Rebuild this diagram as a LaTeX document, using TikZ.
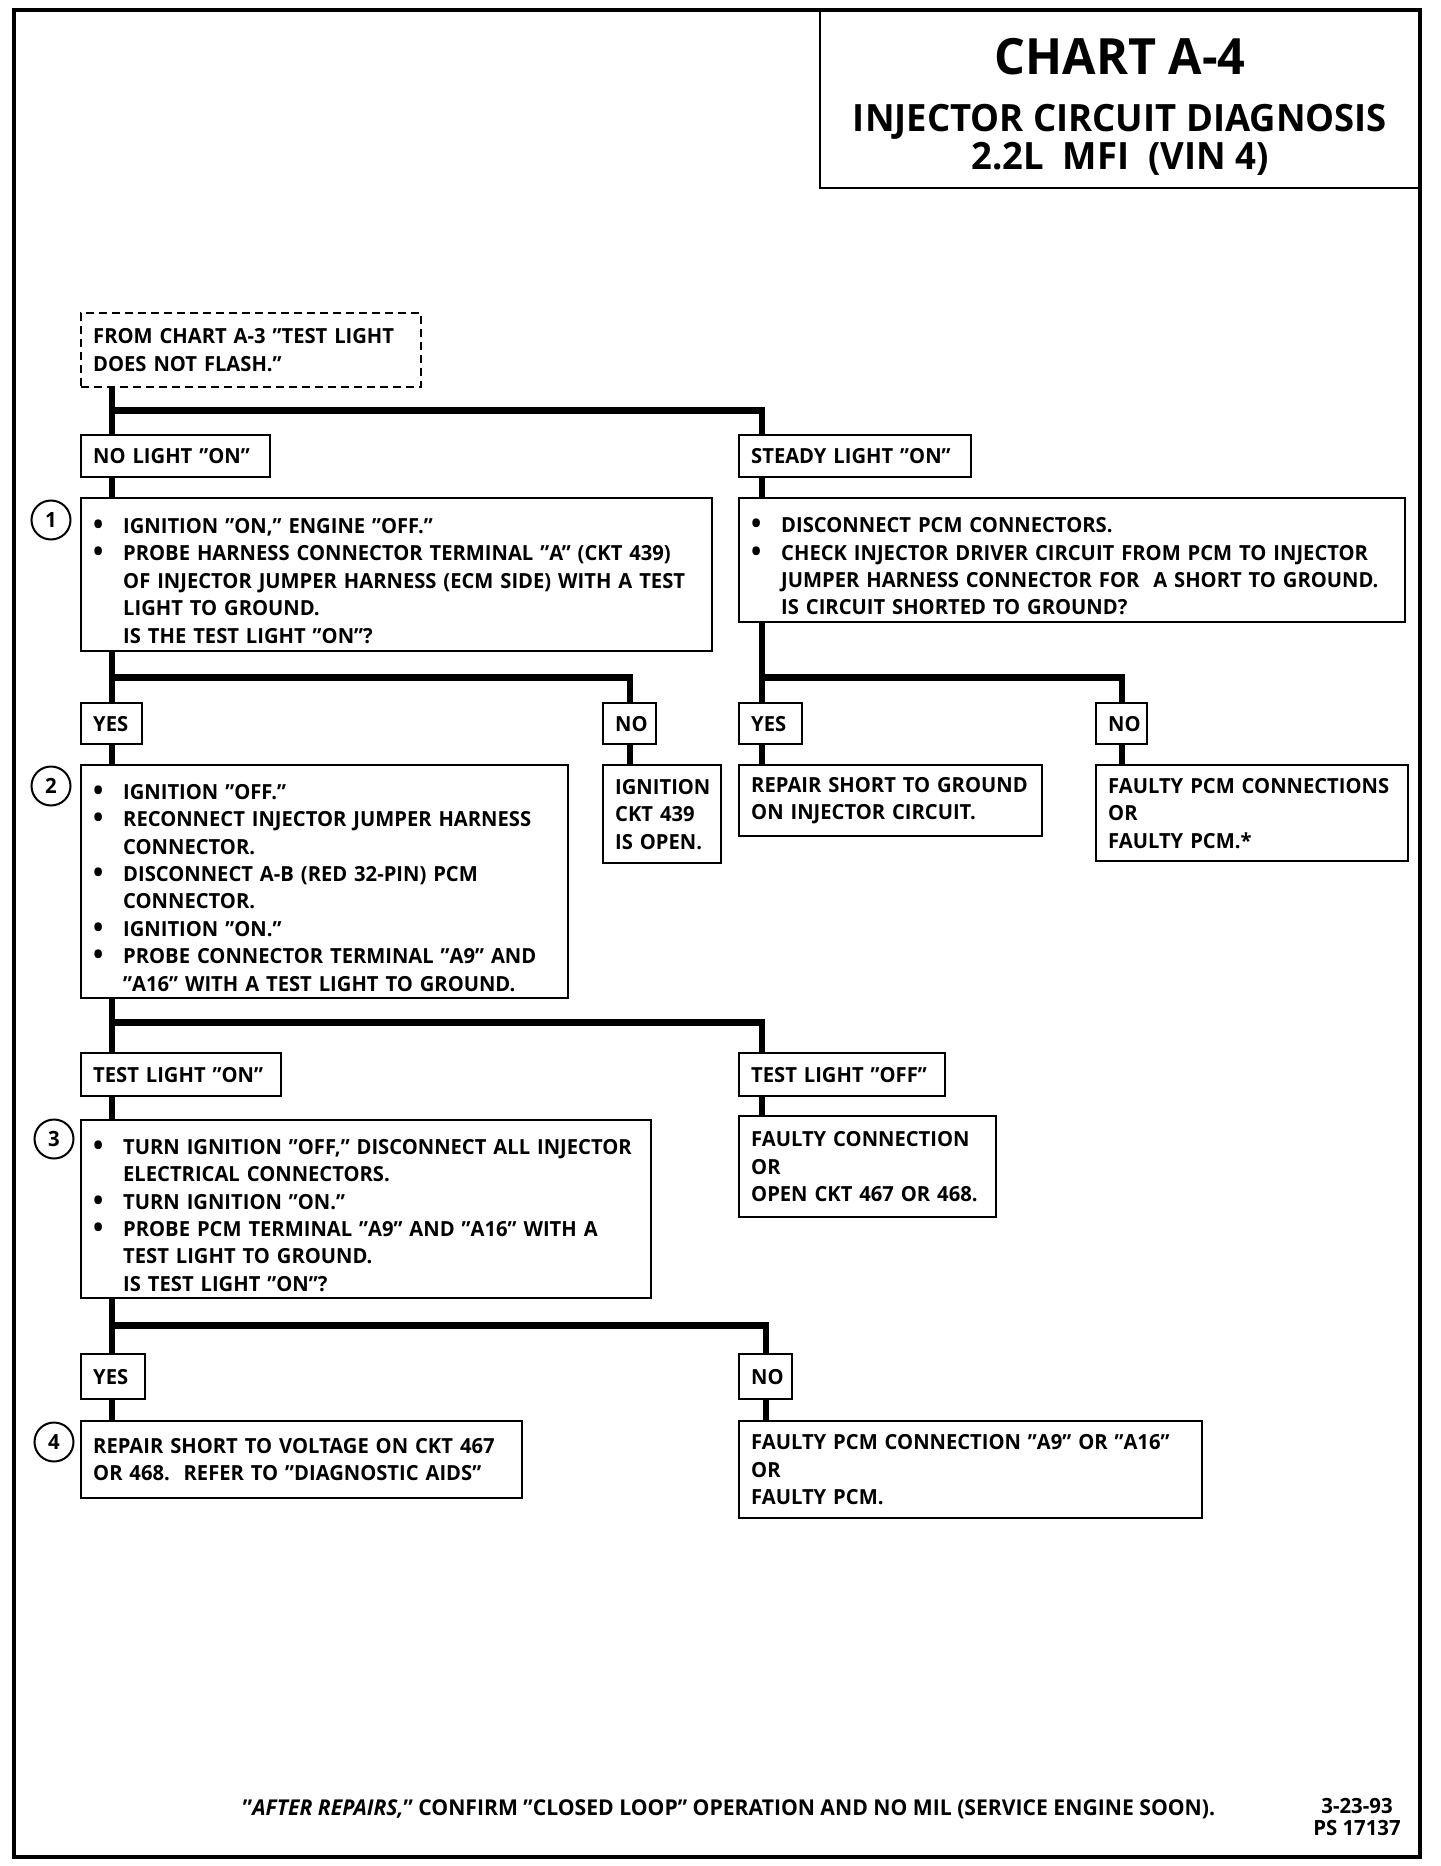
\documentclass[tikz,border=0pt]{standalone}
\usepackage{fontspec}
\setmainfont{Open Sans}[FakeStretch=0.97]
\usetikzlibrary{positioning,calc}
\setlength{\parindent}{0pt}
% bullet item and its continuation lines
\newcommand{\bul}{\par\rightskip=-8pt plus 1fil\noindent\makebox[15pt][l]{\raisebox{-0.1ex}{\scalebox{1.35}{\textbullet}}}}
\newcommand{\nxt}{\par\noindent\hspace*{15pt}}

\begin{document}
\begin{tikzpicture}[x=0.5pt,y=-0.5pt,
  font=\bfseries\fontsize{10.4}{13.7}\selectfont,
  box/.style={draw, line width=1.2pt, anchor=north west, align=left,
              inner xsep=6pt, inner ysep=0pt},
  trunk/.style={line width=3.2pt},
  num/.style={draw, circle, line width=1pt, minimum size=19.5pt, inner sep=0pt,
              font=\bfseries\fontsize{10.5}{10}\selectfont},
]
\useasboundingbox (0,0) rectangle (1440,1866);
\draw[line width=2pt] (14,10) rectangle (1420,1857);

% title
\node[draw, line width=1.2pt, anchor=north east, minimum width=299.5pt,
      minimum height=88.5pt] (title) at (1420,10) {};
\node[anchor=base, font=\bfseries\fontsize{25}{25}\selectfont] (ttl) at (1120,75) {CHART A-4};
\node[anchor=base, font=\bfseries\fontsize{18.8}{18}\selectfont] (sub1) at (1120,132) {INJECTOR CIRCUIT DIAGNOSIS};
\node[anchor=base, font=\bfseries\fontsize{18.8}{18}\selectfont] (sub2) at (1120,170) {2.2L\ \ MFI\ \ (VIN 4)};

% first step
\node[box, dashed, dash pattern=on 4pt off 2.5pt, text width=158pt, minimum height=37pt] (start) at (80,312)
  {FROM CHART A-3 "TEST LIGHT\\DOES NOT FLASH."};
\node[box, text width=82.5pt, minimum height=21pt] (nolight) at (80,434) {NO LIGHT "ON"};
\node[box, text width=104pt, minimum height=21pt] (steady) at (738,434) {STEADY LIGHT "ON"};
\node[box, text width=303.5pt, minimum height=76.5pt] (q1) at (80,497)
  {\bul IGNITION "ON," ENGINE "OFF."
   \bul PROBE HARNESS CONNECTOR TERMINAL "A" (CKT 439)
   \nxt OF INJECTOR JUMPER HARNESS (ECM SIDE) WITH A TEST
   \nxt LIGHT TO GROUND.
   \nxt IS THE TEST LIGHT "ON"?};
\node[box, text width=321pt, minimum height=62pt] (chk) at (738,497)
  {\bul DISCONNECT PCM CONNECTORS.
   \bul CHECK INJECTOR DRIVER CIRCUIT FROM PCM TO INJECTOR
   \nxt JUMPER HARNESS CONNECTOR FOR\ \ A SHORT TO GROUND.
   \nxt IS CIRCUIT SHORTED TO GROUND?};

% answers to 1 and to the short check
\node[box, text width=18.5pt, minimum height=20.5pt] (yes1) at (80,702) {YES};
\node[box, text width=14.5pt, minimum height=20.5pt] (no1) at (602,702) {NO};
\node[box, text width=47pt, minimum height=49pt] (open439) at (602,764) {IGNITION\\CKT 439\\IS OPEN.};
\node[box, text width=19.5pt, minimum height=20.5pt] (yes2) at (738,702) {YES};
\node[box, text width=13.5pt, minimum height=20.5pt] (no2) at (1095,702) {NO};
\node[box, text width=139.5pt, minimum height=35.5pt] (repgnd) at (738,764) {REPAIR SHORT TO GROUND\\ON INJECTOR CIRCUIT.};
\node[box, text width=144pt, minimum height=48pt] (faultpcm) at (1095,764) {FAULTY PCM CONNECTIONS\\OR\\FAULTY PCM.*};
\node[box, text width=231.5pt, minimum height=116.5pt] (q2) at (80,764)
  {\bul IGNITION "OFF."
   \bul RECONNECT INJECTOR JUMPER HARNESS
   \nxt CONNECTOR.
   \bul DISCONNECT A-B (RED 32-PIN) PCM
   \nxt CONNECTOR.
   \bul IGNITION "ON."
   \bul PROBE CONNECTOR TERMINAL "A9" AND
   \nxt "A16" WITH A TEST LIGHT TO GROUND.};

% step 2 results
\node[box, text width=88pt, minimum height=21.5pt] (lighton) at (80,1052) {TEST LIGHT "ON"};
\node[box, text width=91pt, minimum height=21.5pt] (lightoff) at (738,1052) {TEST LIGHT "OFF"};
\node[box, text width=273pt, minimum height=89pt] (q3) at (80,1119)
  {\bul TURN IGNITION "OFF," DISCONNECT ALL INJECTOR
   \nxt ELECTRICAL CONNECTORS.
   \bul TURN IGNITION "ON."
   \bul PROBE PCM TERMINAL "A9" AND "A16" WITH A
   \nxt TEST LIGHT TO GROUND.
   \nxt IS TEST LIGHT "ON"?};
\node[box, text width=116.5pt, minimum height=50.5pt] (faultconn) at (738,1115) {FAULTY CONNECTION\\OR\\OPEN CKT 467 OR 468.};

% step 3 results
\node[box, text width=20pt, minimum height=22.5pt] (yes3) at (80,1353) {YES};
\node[box, text width=14.5pt, minimum height=22.5pt] (no3) at (738,1353) {NO};
\node[box, text width=208.5pt, minimum height=38.5pt] (repvolt) at (80,1420)
  {REPAIR SHORT TO VOLTAGE ON CKT 467\\OR 468.\ \ REFER TO "DIAGNOSTIC AIDS"};
\node[box, text width=219.5pt, minimum height=48.5pt] (faultA9) at (738,1420)
  {FAULTY PCM CONNECTION "A9" OR "A16"\\OR\\FAULTY PCM.};

% step numbers
\node[num] (n1) at (51,520) {1};
\node[num] (n2) at (51,786) {2};
\node[num] (n3) at (54,1139) {3};
\node[num] (n4) at (54,1442) {4};

% connectors
\path ([xshift=16pt]start.south west) ++(0,22) coordinate (j1);
\path ([xshift=16pt]q1.south west) ++(0,25) coordinate (j2);
\path ([xshift=12pt]chk.south west) ++(0,54) coordinate (j3);
\path ([xshift=16pt]q2.south west) ++(0,23) coordinate (j4);
\path ([xshift=16pt]q3.south west) ++(0,26) coordinate (j5);

\draw[trunk] ([xshift=16pt]start.south west) -- ([xshift=16pt]nolight.north west);
\draw[trunk] (j1) -| ([xshift=12pt]steady.north west);
\draw[trunk] ([xshift=16pt]nolight.south west) -- ([xshift=16pt]q1.north west);
\draw[trunk] ([xshift=12pt]steady.south west) -- ([xshift=12pt]chk.north west);

\draw[trunk] ([xshift=16pt]q1.south west) -- ([xshift=16pt]yes1.north west);
\draw[trunk] (j2) -| (no1.north);
\draw[trunk] ([xshift=16pt]yes1.south west) -- ([xshift=16pt]q2.north west);
\draw[trunk] (no1.south) -- (no1.south |- open439.north);
\draw[trunk] ([xshift=12pt]chk.south west) -- ([xshift=12pt]yes2.north west);
\draw[trunk] (j3) -| (no2.north);
\draw[trunk] ([xshift=12pt]yes2.south west) -- ([xshift=12pt]repgnd.north west);
\draw[trunk] (no2.south) -- (no2.south |- faultpcm.north);

\draw[trunk] ([xshift=16pt]q2.south west) -- ([xshift=16pt]lighton.north west);
\draw[trunk] (j4) -| ([xshift=12pt]lightoff.north west);
\draw[trunk] ([xshift=16pt]lighton.south west) -- ([xshift=16pt]q3.north west);
\draw[trunk] ([xshift=12pt]lightoff.south west) -- ([xshift=12pt]faultconn.north west);

\draw[trunk] ([xshift=16pt]q3.south west) -- ([xshift=16pt]yes3.north west);
\draw[trunk] (j5) -| (no3.north);
\draw[trunk] ([xshift=16pt]yes3.south west) -- ([xshift=16pt]repvolt.north west);
\draw[trunk] (no3.south) -- (no3.south |- faultA9.north);

% footer
\node[anchor=base, font=\bfseries\fontsize{10.9}{11}\selectfont] (note) at (729,1815)
  {"\textit{AFTER REPAIRS,}" CONFIRM "CLOSED LOOP" OPERATION AND NO MIL (SERVICE ENGINE SOON).};
\node[anchor=base, font=\bfseries\fontsize{10.5}{10}\selectfont] (date) at (1357,1813) {3-23-93};
\node[anchor=base, font=\bfseries\fontsize{10.5}{10}\selectfont] (psnum) at (1357,1835) {PS 17137};
\end{tikzpicture}
\end{document}
